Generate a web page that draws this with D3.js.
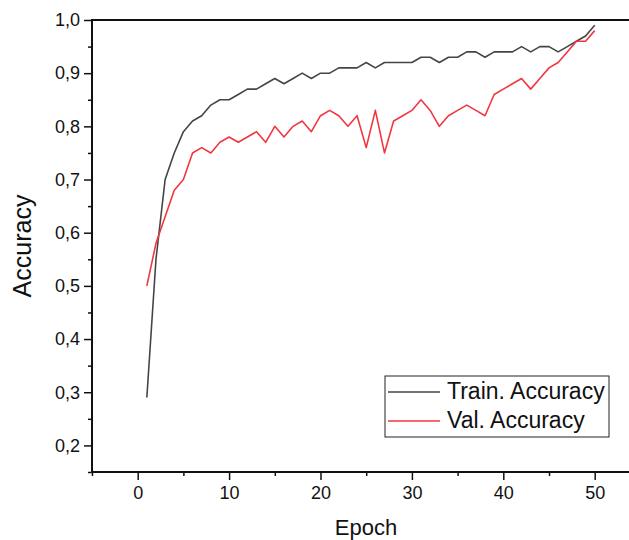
<!DOCTYPE html>
<html>
<head>
<meta charset="utf-8">
<script src="https://cdn.jsdelivr.net/npm/d3@7"></script>
<style>
  body { margin: 0; background: #fff; }
  svg { display: block; font-family: Arial, "Liberation Sans", sans-serif; }
</style>
</head>
<body>
<div id="chart"></div>
<script>
const epochs = d3.range(1, 51);
const trainAcc = [0.29, 0.55, 0.70, 0.75, 0.79, 0.81, 0.82, 0.84, 0.85, 0.85,
  0.86, 0.87, 0.87, 0.88, 0.89, 0.88, 0.89, 0.90, 0.89, 0.90,
  0.90, 0.91, 0.91, 0.91, 0.92, 0.91, 0.92, 0.92, 0.92, 0.92,
  0.93, 0.93, 0.92, 0.93, 0.93, 0.94, 0.94, 0.93, 0.94, 0.94,
  0.94, 0.95, 0.94, 0.95, 0.95, 0.94, 0.95, 0.96, 0.97, 0.99];
const valAcc = [0.50, 0.58, 0.63, 0.68, 0.70, 0.75, 0.76, 0.75, 0.77, 0.78,
  0.77, 0.78, 0.79, 0.77, 0.80, 0.78, 0.80, 0.81, 0.79, 0.82,
  0.83, 0.82, 0.80, 0.82, 0.76, 0.83, 0.75, 0.81, 0.82, 0.83,
  0.85, 0.83, 0.80, 0.82, 0.83, 0.84, 0.83, 0.82, 0.86, 0.87,
  0.88, 0.89, 0.87, 0.89, 0.91, 0.92, 0.94, 0.96, 0.96, 0.98];
const xMajor = [0, 10, 20, 30, 40, 50];
const xMinor = [-5, 5, 15, 25, 35, 45, 55];
const yMajor = [0.2, 0.3, 0.4, 0.5, 0.6, 0.7, 0.8, 0.9, 1.0];
const yMinor = [0.15, 0.25, 0.35, 0.45, 0.55, 0.65, 0.75, 0.85, 0.95];
const seriesNames = ["Train. Accuracy", "Val. Accuracy"];
const seriesColors = ["#454545", "#f2363f"];

const width = 629, height = 540;
const svg = d3.select("#chart").append("svg")
  .attr("width", width)
  .attr("height", height);

// plot area
const plotLeft = 92, plotTop = 20, plotBottom = 472;
const x = d3.scaleLinear().domain([-5, 55]).range([plotLeft, plotLeft + 548.4]);
const y = d3.scaleLinear().domain([0.15, 1.0]).range([plotBottom, plotTop]);

const fmt = d => d3.format(".1f")(d).replace(".", ",");
const font = "Arial, 'Liberation Sans', sans-serif";

// x axis, major + minor
svg.append("g")
  .attr("transform", "translate(0," + plotBottom + ")")
  .call(d3.axisBottom(x).tickValues(xMajor).tickSize(8).tickPadding(6).tickFormat(d3.format("d")))
  .call(g => g.select(".domain").remove())
  .call(g => g.selectAll("text").attr("font-size", 18).attr("fill", "#111").attr("font-family", font))
  .call(g => g.selectAll("line").attr("stroke", "#111").attr("stroke-width", 1.5));
svg.append("g")
  .attr("transform", "translate(0," + plotBottom + ")")
  .call(d3.axisBottom(x).tickValues(xMinor).tickSize(4).tickFormat(""))
  .call(g => g.select(".domain").remove())
  .call(g => g.selectAll("line").attr("stroke", "#111").attr("stroke-width", 1.5));

// y axis, major + minor
svg.append("g")
  .attr("transform", "translate(" + plotLeft + ",0)")
  .call(d3.axisLeft(y).tickValues(yMajor).tickSize(8).tickPadding(4).tickFormat(fmt))
  .call(g => g.select(".domain").remove())
  .call(g => g.selectAll("text").attr("font-size", 18).attr("fill", "#111").attr("font-family", font))
  .call(g => g.selectAll("line").attr("stroke", "#111").attr("stroke-width", 1.5));
svg.append("g")
  .attr("transform", "translate(" + plotLeft + ",0)")
  .call(d3.axisLeft(y).tickValues(yMinor).tickSize(4).tickFormat(""))
  .call(g => g.select(".domain").remove())
  .call(g => g.selectAll("line").attr("stroke", "#111").attr("stroke-width", 1.5));

// frame lines
svg.append("line").attr("x1", plotLeft).attr("x2", plotLeft).attr("y1", plotTop).attr("y2", plotBottom)
  .attr("stroke", "#111").attr("stroke-width", 2);
svg.append("line").attr("x1", plotLeft - 1).attr("x2", x(55)).attr("y1", plotTop).attr("y2", plotTop)
  .attr("stroke", "#111").attr("stroke-width", 2);
svg.append("line").attr("x1", plotLeft - 1).attr("x2", x(55)).attr("y1", plotBottom).attr("y2", plotBottom)
  .attr("stroke", "#111").attr("stroke-width", 2);

// lines
const line = d3.line().x((d, i) => x(epochs[i])).y(d => y(d));
[trainAcc, valAcc].forEach((s, i) => {
  svg.append("path")
    .datum(s)
    .attr("fill", "none")
    .attr("stroke", seriesColors[i])
    .attr("stroke-width", 1.6)
    .attr("stroke-linejoin", "round")
    .attr("d", line);
});

// axis titles
svg.append("text")
  .attr("x", 366).attr("y", 535)
  .attr("text-anchor", "middle")
  .attr("font-size", 22)
  .attr("fill", "#111")
  .text("Epoch");
svg.append("text")
  .attr("transform", "translate(31,246) rotate(-90)")
  .attr("text-anchor", "middle")
  .attr("font-size", 25)
  .attr("fill", "#111")
  .text("Accuracy");

// legend
const legend = svg.append("g").attr("transform", "translate(385,376)");
legend.append("rect")
  .attr("width", 224).attr("height", 61)
  .attr("fill", "#fff").attr("stroke", "#222").attr("stroke-width", 1);
seriesNames.forEach((name, i) => {
  legend.append("line")
    .attr("x1", 3).attr("x2", 55)
    .attr("y1", 16 + i * 29).attr("y2", 16 + i * 29)
    .attr("stroke", seriesColors[i]).attr("stroke-width", 1.6);
  legend.append("text")
    .attr("x", 62).attr("y", 23 + i * 29)
    .attr("font-size", 23)
    .attr("fill", "#111")
    .text(name);
});
</script>
</body>
</html>
